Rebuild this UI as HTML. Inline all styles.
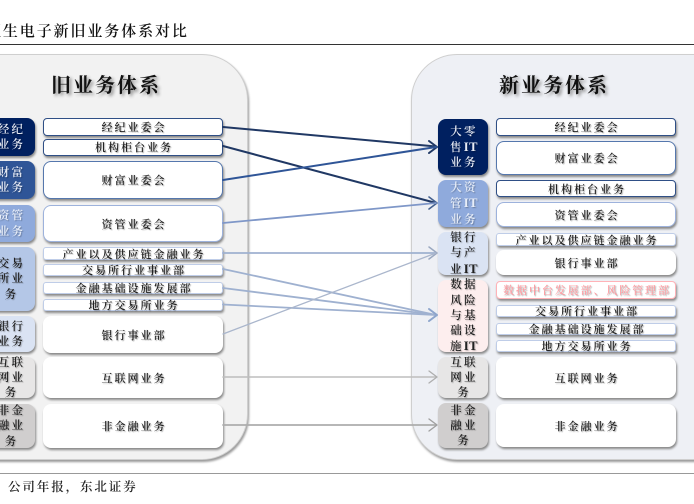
<!DOCTYPE html>
<html><head><meta charset="utf-8">
<style>
html,body{margin:0;padding:0;background:#fff}
#p{position:relative;width:694px;height:504px;overflow:hidden;background:#fff;font-family:"Liberation Serif","Noto Serif CJK SC",serif;color:#222;filter:blur(.3px)}
#p div{position:absolute;box-sizing:border-box}
.panel{border:1px solid #cfcfcf;border-radius:46px;box-shadow:1px 2px 2px #999}
.h{font-size:20px;letter-spacing:2px;text-shadow:2px 2px 3px #888;color:#111;font-weight:700;white-space:nowrap;text-align:center;line-height:30px}
.c,.b{display:flex;align-items:center;justify-content:center;text-align:center;white-space:nowrap;box-shadow:1px 2px 2px #888;font-weight:600}
.c{border-radius:8px;font-size:11.5px;letter-spacing:2.2px;line-height:15.3px;text-shadow:1px 1px 1px rgba(0,0,0,.25);padding:2px 0 0 2px}
.c b{font-family:"Liberation Serif",serif;font-size:12.5px;letter-spacing:.5px}
.b{background:#fff;border-radius:8px;font-size:11px;letter-spacing:2px;line-height:12px;border:1px solid #fff;text-shadow:1px 1px 1px rgba(0,0,0,.3);padding:2px 0 0 2px}
.l{left:43px;width:180px}.r{left:496px;width:180px}
.cl{left:-14px;width:49px}.cr{left:438px;width:50px}
.d{border-color:#2f4f86;border-radius:4px}.m{border-color:#5577ad}.s{border-color:#9db2dc}.t{border-color:#bfcde8;border-radius:3px}
svg{position:absolute;left:0;top:0}
</style></head><body><div id="p">
<div style="left:-14px;top:22px;font-size:15px;letter-spacing:1.9px;line-height:20px;color:#111;font-weight:600;white-space:nowrap">恒生电子新旧业务体系对比</div>
<div style="left:0;top:44px;width:694px;height:1px;background:#333"></div>

<div class="panel" style="left:-60px;top:54px;width:308px;height:406px;background:#f2f2f2"></div>
<div class="panel" style="left:411px;top:54px;width:340px;height:406px;background:#eef0f5"></div>

<div class="h" style="left:6px;top:71px;width:200px">旧业务体系</div>
<div class="h" style="left:454px;top:71px;width:200px">新业务体系</div>

<div class="c cl" style="top:118px;height:38px;background:#002060;color:#e8ecf5"><span>经纪<br>业务</span></div>
<div class="c cl" style="top:161px;height:38px;background:#2f5597;color:#e8ecf5"><span>财富<br>业务</span></div>
<div class="c cl" style="top:205px;height:37px;background:#8faadc;color:#e8eef8"><span>资管<br>业务</span></div>
<div class="c cl" style="top:247px;height:64px;background:#b4c7e7"><span>交易<br>所业<br>务</span></div>
<div class="c cl" style="top:316px;height:36px;background:#dae3f3"><span>银行<br>业务</span></div>
<div class="c cl" style="top:357px;height:41px;background:#e7e6e6"><span>互联<br>网业<br>务</span></div>
<div class="c cl" style="top:404px;height:44px;background:#d0cece"><span>非金<br>融业<br>务</span></div>

<div class="b l d" style="top:118px;height:18px">经纪业委会</div>
<div class="b l d" style="top:138.5px;height:17.5px">机构柜台业务</div>
<div class="b l m" style="top:161px;height:38px">财富业委会</div>
<div class="b l s" style="top:205px;height:37px">资管业委会</div>
<div class="b l t" style="top:247px;height:13px">产业以及供应链金融业务</div>
<div class="b l t" style="top:264px;height:12px">交易所行业事业部</div>
<div class="b l t" style="top:282px;height:12px">金融基础设施发展部</div>
<div class="b l t" style="top:299px;height:12px">地方交易所业务</div>
<div class="b l" style="top:316px;height:37px">银行事业部</div>
<div class="b l" style="top:357px;height:41px">互联网业务</div>
<div class="b l" style="top:404px;height:44px">非金融业务</div>

<div class="c cr" style="top:119px;height:56px;background:#002060;color:#e8ecf5"><span>大零<br>售<b>IT</b><br>业务</span></div>
<div class="c cr" style="top:180px;height:47px;background:#8faadc;color:#e8eef8"><span>大资<br>管<b>IT</b><br>业务</span></div>
<div class="c cr" style="top:232px;height:43px;background:#dae3f3"><span>银行<br>与产<br>业<b>IT</b></span></div>
<div class="c cr" style="top:280px;height:72px;background:#fdeeee"><span>数据<br>风险<br>与基<br>础设<br>施<b>IT</b></span></div>
<div class="c cr" style="top:357px;height:41px;background:#e7e6e6"><span>互联<br>网业<br>务</span></div>
<div class="c cr" style="top:403px;height:45px;background:#d0cece"><span>非金<br>融业<br>务</span></div>

<div class="b r d" style="top:118px;height:18px">经纪业委会</div>
<div class="b r m" style="top:141px;height:34px">财富业委会</div>
<div class="b r d" style="top:180px;height:17px">机构柜台业务</div>
<div class="b r s" style="top:202px;height:25px">资管业委会</div>
<div class="b r t" style="top:233px;height:13px">产业以及供应链金融业务</div>
<div class="b r" style="top:250px;height:25px">银行事业部</div>
<div class="b r" style="top:281px;height:18px;border-color:#ffb3b8;border-radius:4px;color:#ff9aa0;font-weight:500;letter-spacing:1.900px">数据中台发展部、风险管理部</div>
<div class="b r t" style="top:305px;height:12px">交易所行业事业部</div>
<div class="b r t" style="top:323px;height:12px">金融基础设施发展部</div>
<div class="b r t" style="top:340px;height:12px">地方交易所业务</div>
<div class="b r" style="top:357px;height:41px">互联网业务</div>
<div class="b r" style="top:404px;height:43px">非金融业务</div>

<svg width="694" height="504" viewBox="0 0 694 504" fill="none" stroke-linecap="round" stroke-linejoin="round">
<g stroke="#203864" stroke-width="2"><path d="M223 127L436 146.500"/><path d="M429 141L437 147 429 153"/><path d="M223 146L436 203"/></g>
<g stroke="#2f5597" stroke-width="2"><path d="M223 180L436 147"/></g>
<path d="M429 197L437 203 429 209" stroke="#44618f" stroke-width="1.600"/>
<path d="M223 223L436 203" stroke="#7f97c8" stroke-width="1.800"/>
<g stroke="#9fb1d0" stroke-width="1.800"><path d="M223 253L436 253"/><path d="M223 269L436 315"/><path d="M223 288L436 315"/><path d="M223 304.500L436 315"/></g>
<path d="M429 247L437 253 429 259" stroke="#9aa8c0" stroke-width="1.500"/>
<path d="M429 309L437 315 429 321" stroke="#8ea5cc" stroke-width="2"/>
<path d="M223 334L436 253" stroke="#aab6cc" stroke-width="1.300"/>
<path d="M223 377L436 377" stroke="#bdbdbd" stroke-width="1.600"/>
<path d="M429 371L437 377 429 383" stroke="#aeaeae" stroke-width="1.300"/>
<path d="M223 425L436 425" stroke="#adadad" stroke-width="1.800"/>
<path d="M429 419L437 425 429 431" stroke="#a0a0a0" stroke-width="1.400"/>
</svg>

<div style="left:0;top:472.500px;width:694px;height:1.500px;background:#999"></div>
<div style="left:8px;top:478px;font-size:12.500px;letter-spacing:1.900px;line-height:18px;color:#222;font-weight:600;white-space:nowrap">公司年报，东北证券</div>
</div></body></html>
